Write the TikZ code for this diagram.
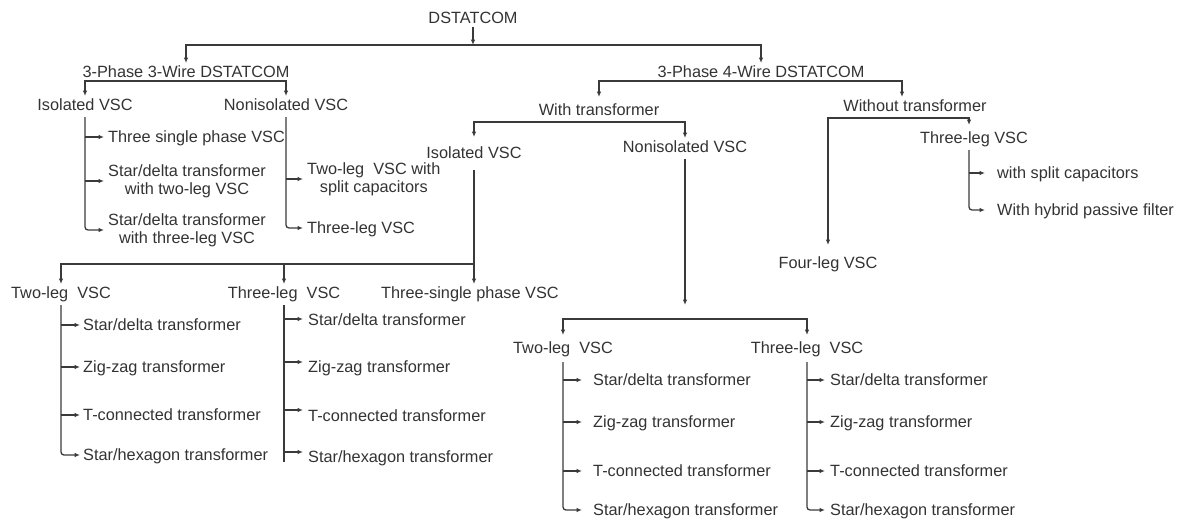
\documentclass[tikz,border=0pt]{standalone}
\usepackage{fontspec}
\setmainfont{Liberation Sans}
\usetikzlibrary{arrows.meta,calc}
\definecolor{ink}{HTML}{333333}
\definecolor{wire}{HTML}{3A3A3A}
\begin{document}
\begin{tikzpicture}[x=1pt,y=-1pt,
  lbl/.style={inner xsep=0pt, inner ysep=3pt, text height=11.6pt, text depth=0pt,
    font=\fontsize{16.3}{17.6}\selectfont, text=ink},
  leaf/.style={lbl, anchor=west},
  leaftwo/.style={inner xsep=0pt, inner ysep=0pt, anchor=west, align=center,
    font=\fontsize{16.3}{17.6}\selectfont, text=ink},
  wirel/.style={draw=wire, line width=1.3pt},
  arr/.style={wirel, -{Latex[length=5.5pt,width=4.5pt]}},
]
\useasboundingbox (0,0) rectangle (1180,522);

% ---- main nodes
\node[lbl] (dst)  at (473,18)  {DSTATCOM};
\node[lbl] (p3w)  at (186,72)  {3-Phase 3-Wire DSTATCOM};
\node[lbl] (p4w)  at (761,72)  {3-Phase 4-Wire DSTATCOM};
\node[lbl] (iso1) at (85,105)  {Isolated VSC};
\node[lbl] (non1) at (286,105) {Nonisolated VSC};
\node[lbl] (wt)   at (599,110) {With transformer};
\node[lbl] (wo)   at (915,106) {Without transformer};
\node[lbl] (iso2) at (474,153) {Isolated VSC};
\node[lbl] (non2) at (685,147) {Nonisolated VSC};
\node[lbl] (tlr)  at (974,138) {Three-leg VSC};
\node[lbl] (flg)  at (828,263) {Four-leg VSC};
\node[lbl] (twa)  at (61,293)  {Two-leg\ \ VSC};
\node[lbl] (tha)  at (284,293) {Three-leg\ \ VSC};
\node[lbl] (tsp)  at (470,293) {Three-single phase VSC};
\node[lbl] (tl2)  at (563,348) {Two-leg\ \ VSC};
\node[lbl] (th2)  at (807,348) {Three-leg\ \ VSC};

% ---- bus coordinates
\coordinate (b0) at (473,45);
\coordinate (b1) at (186,81);
\coordinate (b2) at (761,81);
\coordinate (b3) at (599,122);
\coordinate (b4) at (915,118);
\coordinate (b5) at (474,264);
\coordinate (n2e) at (685,305);
\coordinate (b6) at (685,319);

% ---- top levels
\draw[arr] (dst.south) -- (b0);
\draw[arr] (b0) -| (p3w.north);
\draw[arr] (b0) -| (p4w.north);
\draw[arr] (b1) -| (iso1.north);
\draw[arr] (b1) -| (non1.north);
\draw[arr, shorten >=4pt] (b2) -| (wt.north);
\draw[arr] (b2) -| ([xshift=-13pt]wo.north);
\draw[arr, shorten >=7pt] (b3) -| (iso2.north);
\draw[arr] (b3) -| (non2.north);
\draw[arr, shorten >=9pt] (b4) -| (flg.north);
\draw[arr, shorten >=4pt] (b4) -| ([xshift=-5pt]tlr.north);
\draw[arr, shorten <=8pt] (iso2.south) -- (iso2.south |- tsp.north);
\draw[arr] (b5) -| (twa.north);
\draw[arr] (b5) -| (tha.north);
\draw[arr, shorten <=3pt] (non2.south) -- (n2e);
\draw[arr, shorten >=4pt] (b6) -| (tl2.north);
\draw[arr, shorten >=4pt] (b6) -| (th2.north);

% ---- 3-wire isolated
\node[leaf]    (i1a) at (108,137) {Three single phase VSC};
\node[leaftwo] (i1b) at (108,181) {Star/delta transformer\\with two-leg VSC};
\node[leaftwo] (i1c) at (108,230) {Star/delta transformer\\with three-leg VSC};
\draw[arr, shorten >=4pt] (iso1.south |- i1a.west) -- (i1a.west);
\draw[arr, shorten >=4pt] (iso1.south |- i1b.west) -- (i1b.west);
\draw[arr, shorten >=4pt, shorten <=3pt, rounded corners=3pt] (iso1.south) |- (i1c.west);

% ---- 3-wire nonisolated
\node[leaftwo] (n1a) at (307,179) {Two-leg\ \ VSC with\\split capacitors};
\node[leaf]    (n1b) at (307,228) {Three-leg VSC};
\draw[arr, shorten >=4pt] (non1.south |- n1a.west) -- (n1a.west);
\draw[arr, shorten >=4pt, shorten <=3pt, rounded corners=3pt] (non1.south) |- (n1b.west);

% ---- without transformer, three-leg
\node[leaf] (r1) at (997,173) {with split capacitors};
\node[leaf] (r2) at (997,210) {With hybrid passive filter};
\draw[arr, shorten >=12pt] ([xshift=-5pt]tlr.south |- r1.west) -- (r1.west);
\draw[arr, shorten >=12pt, shorten <=3pt, rounded corners=3pt] ([xshift=-5pt]tlr.south) |- (r2.west);

% ---- two-leg VSC (isolated, with transformer)
\node[leaf] (ta1) at (83,325) {Star/delta transformer};
\node[leaf] (ta2) at (83,367) {Zig-zag transformer};
\node[leaf] (ta3) at (83,415) {T-connected transformer};
\node[leaf] (ta4) at (83,455) {Star/hexagon transformer};
\draw[arr, shorten >=3pt] (twa.south |- ta1.west) -- (ta1.west);
\draw[arr, shorten >=3pt] (twa.south |- ta2.west) -- (ta2.west);
\draw[arr, shorten >=3pt] (twa.south |- ta3.west) -- (ta3.west);
\draw[arr, shorten >=3pt, shorten <=3pt, rounded corners=3pt] (twa.south) |- (ta4.west);

% ---- three-leg VSC (isolated, with transformer)
\node[leaf] (hb1) at (308,320) {Star/delta transformer};
\node[leaf] (hb2) at (308,367) {Zig-zag transformer};
\node[leaf] (hb3) at (308,416) {T-connected transformer};
\node[leaf] (hb4) at (308,457) {Star/hexagon transformer};
\draw[wirel, shorten <=3pt] (tha.south) -- ($(tha.south |- hb4.west)+(0,5)$);
\draw[arr, shorten >=5pt] ($(tha.south |- hb1.west)+(0,-1)$) -- ($(hb1.west)+(0,-1)$);
\draw[arr, shorten >=5pt] ($(tha.south |- hb2.west)+(0,-5)$) -- ($(hb2.west)+(0,-5)$);
\draw[arr, shorten >=5pt] ($(tha.south |- hb3.west)+(0,-6)$) -- ($(hb3.west)+(0,-6)$);
\draw[arr, shorten >=5pt] ($(tha.south |- hb4.west)+(0,-5)$) -- ($(hb4.west)+(0,-5)$);

% ---- two-leg VSC (nonisolated)
\node[leaf] (tc1) at (593,380) {Star/delta transformer};
\node[leaf] (tc2) at (593,422) {Zig-zag transformer};
\node[leaf] (tc3) at (593,471) {T-connected transformer};
\node[leaf] (tc4) at (593,510) {Star/hexagon transformer};
\draw[arr, shorten >=11pt] (tl2.south |- tc1.west) -- (tc1.west);
\draw[arr, shorten >=11pt] (tl2.south |- tc2.west) -- (tc2.west);
\draw[arr, shorten >=11pt] (tl2.south |- tc3.west) -- (tc3.west);
\draw[arr, shorten >=11pt, shorten <=5pt, rounded corners=3pt] (tl2.south) |- (tc4.west);

% ---- three-leg VSC (nonisolated)
\node[leaf] (td1) at (830,380) {Star/delta transformer};
\node[leaf] (td2) at (830,422) {Zig-zag transformer};
\node[leaf] (td3) at (830,471) {T-connected transformer};
\node[leaf] (td4) at (830,510) {Star/hexagon transformer};
\draw[arr, shorten >=5pt] (th2.south |- td1.west) -- (td1.west);
\draw[arr, shorten >=5pt] (th2.south |- td2.west) -- (td2.west);
\draw[arr, shorten >=5pt] (th2.south |- td3.west) -- (td3.west);
\draw[arr, shorten >=5pt, shorten <=5pt, rounded corners=3pt] (th2.south) |- (td4.west);
\end{tikzpicture}
\end{document}
